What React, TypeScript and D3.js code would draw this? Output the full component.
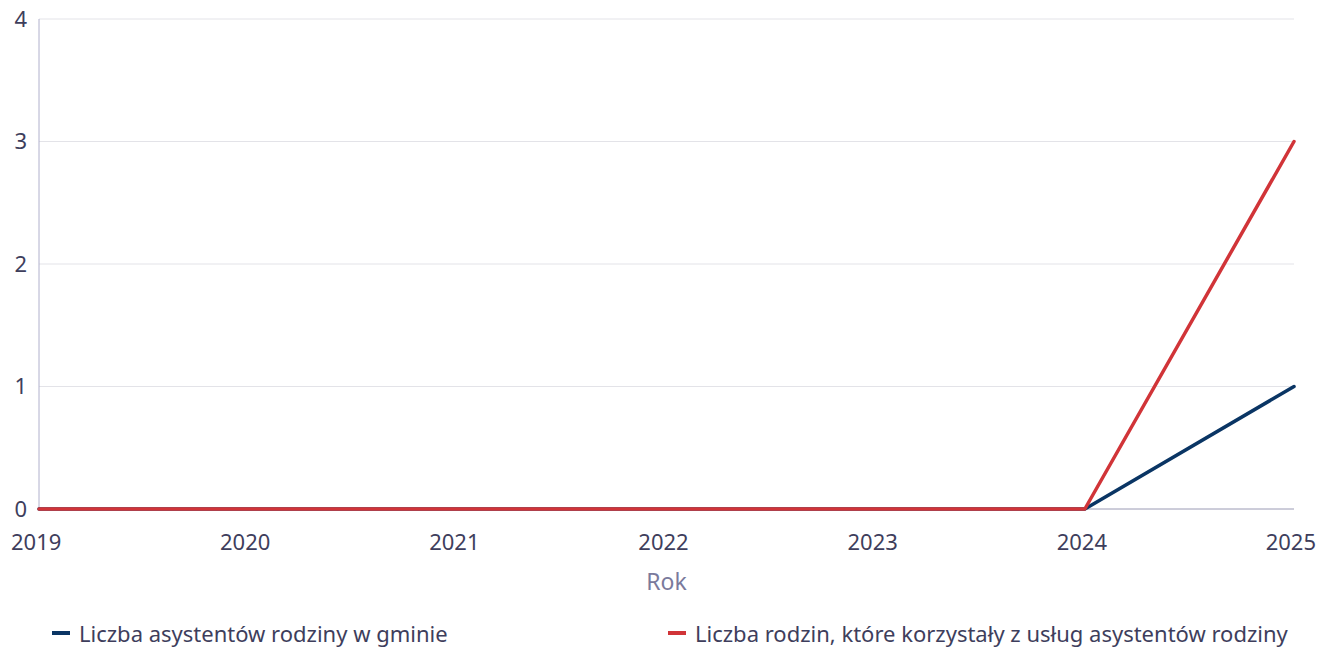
import React from "react";
import * as d3 from "d3";

const years = ["2019", "2020", "2021", "2022", "2023", "2024", "2025"];
const asystenci = [0, 0, 0, 0, 0, 0, 1];
const rodziny = [0, 0, 0, 0, 0, 0, 3];
const yTicks = [0, 1, 2, 3, 4];
const seriesNames = [
  "Liczba asystentów rodziny w gminie",
  "Liczba rodzin, które korzystały z usług asystentów rodziny",
];
const seriesColors = ["#0a3564", "#d13438"];

const W = 1321;
const H = 647;
const M = { left: 39, right: 1294, top: 19, bottom: 509 };
const FONT = "'Noto Sans', 'Open Sans', sans-serif";

export default function App() {
  const x = d3.scalePoint<string>().domain(years).range([M.left, M.right]);
  const y = d3.scaleLinear().domain([0, 4]).range([M.bottom, M.top]);
  const line = d3
    .line<number>()
    .x((_, i) => x(years[i]) as number)
    .y((d) => y(d));
  const series = [asystenci, rodziny];
  const legendX = [52, 668];

  return (
    <svg
      width={W}
      height={H}
      style={{ position: "absolute", left: 0, top: 0, fontFamily: FONT }}
    >
      {yTicks.map((t) => (
        <g key={t}>
          {t > 0 && (
            <line x1={M.left} x2={M.right} y1={y(t)} y2={y(t)} stroke="#e3e3e8" strokeWidth={1} />
          )}
          <text x={27} y={y(t)} dy="0.35em" textAnchor="end" fontSize={22} fill="#3e3e5c">
            {t}
          </text>
        </g>
      ))}
      <line x1={M.left} x2={M.left} y1={M.top} y2={M.bottom} stroke="#b0b0cc" strokeWidth={1} />
      <line x1={M.left} x2={M.right} y1={M.bottom} y2={M.bottom} stroke="#9a9ab4" strokeWidth={1} />
      {years.map((yr, i) => (
        <text
          key={yr}
          x={x(yr)}
          y={550}
          textAnchor={i === 0 ? "start" : i === years.length - 1 ? "end" : "middle"}
          dx={i === 0 ? -28 : i === years.length - 1 ? 22 : -3}
          fontSize={22}
          fill="#3e3e5c"
        >
          {yr}
        </text>
      ))}
      <text x={(M.left + M.right) / 2} y={590} textAnchor="middle" fontSize={23} fill="#7a7a9c">
        Rok
      </text>
      {series.map((s, i) => (
        <path
          key={i}
          d={line(s) as string}
          fill="none"
          stroke={seriesColors[i]}
          strokeWidth={3.5}
          strokeLinejoin="round"
          strokeLinecap="round"
        />
      ))}
      {seriesNames.map((n, i) => (
        <g key={n}>
          <line
            x1={legendX[i]}
            x2={legendX[i] + 18}
            y1={633}
            y2={633}
            stroke={seriesColors[i]}
            strokeWidth={4}
          />
          <text x={legendX[i] + 27} y={634} dy="0.35em" fontSize={22} fill="#3e3e5c">
            {n}
          </text>
        </g>
      ))}
    </svg>
  );
}
